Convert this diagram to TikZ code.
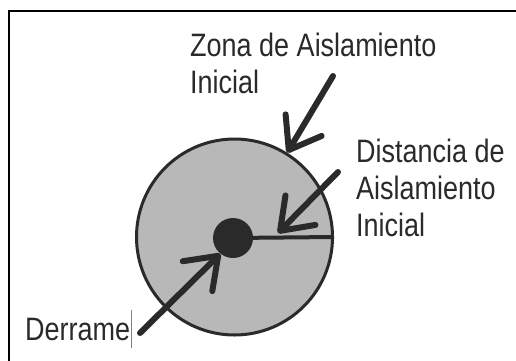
\documentclass[tikz,border=0pt]{standalone}
\usepackage{fontspec}
\setmainfont{Liberation Sans}
\usetikzlibrary{arrows.meta}
\definecolor{zonagris}{RGB}{183,184,183}
\definecolor{oscuro}{RGB}{42,42,42}
\tikzset{
  flecha/.style={oscuro,line width=6pt,line cap=round,
    -{Straight Barb[length=29pt,width=42pt,round]}},
  rotulo/.style={font=\fontsize{27}{30.8}\selectfont,text=oscuro,
    align=left,inner sep=0pt,yscale=1.2,transform shape}
}

\begin{document}
\begin{tikzpicture}[x=1pt,y=1pt]
\useasboundingbox (0,0) rectangle (516,360);

\draw[black,line width=2pt] (8.5,-5) |- (525,349.5);

\node[circle,draw=oscuro,fill=zonagris,line width=3pt,minimum size=196pt,inner sep=0pt] (zona) at (234.5,123) {};
\node[circle,fill=oscuro,minimum size=40pt,inner sep=0pt] (derrame) at (233,122) {};
\draw[oscuro,line width=4pt] (derrame.center) -- (zona.east);

\coordinate (A) at (333,284);
\coordinate (B) at (338,188);
\coordinate (C) at (140,27);
\coordinate (Bt) at (278,127);

\draw[flecha] (A) -- (zona.58);
\draw[flecha] (B) -- (Bt);
\draw[flecha] (C) -- (derrame.-129);

\node[rotulo,anchor=base west] (tzona) at (190,267) {Zona de Aislamiento\\Inicial};
\node[rotulo,anchor=base west] (tdist) at (356,124) {Distancia de\\Aislamiento\\Inicial};
\node[rotulo,anchor=base west] (tderr) at (25,20) {Derrame};
\draw[gray,line width=0.8pt] (131,12) -- (131,50);

\end{tikzpicture}
\end{document}
